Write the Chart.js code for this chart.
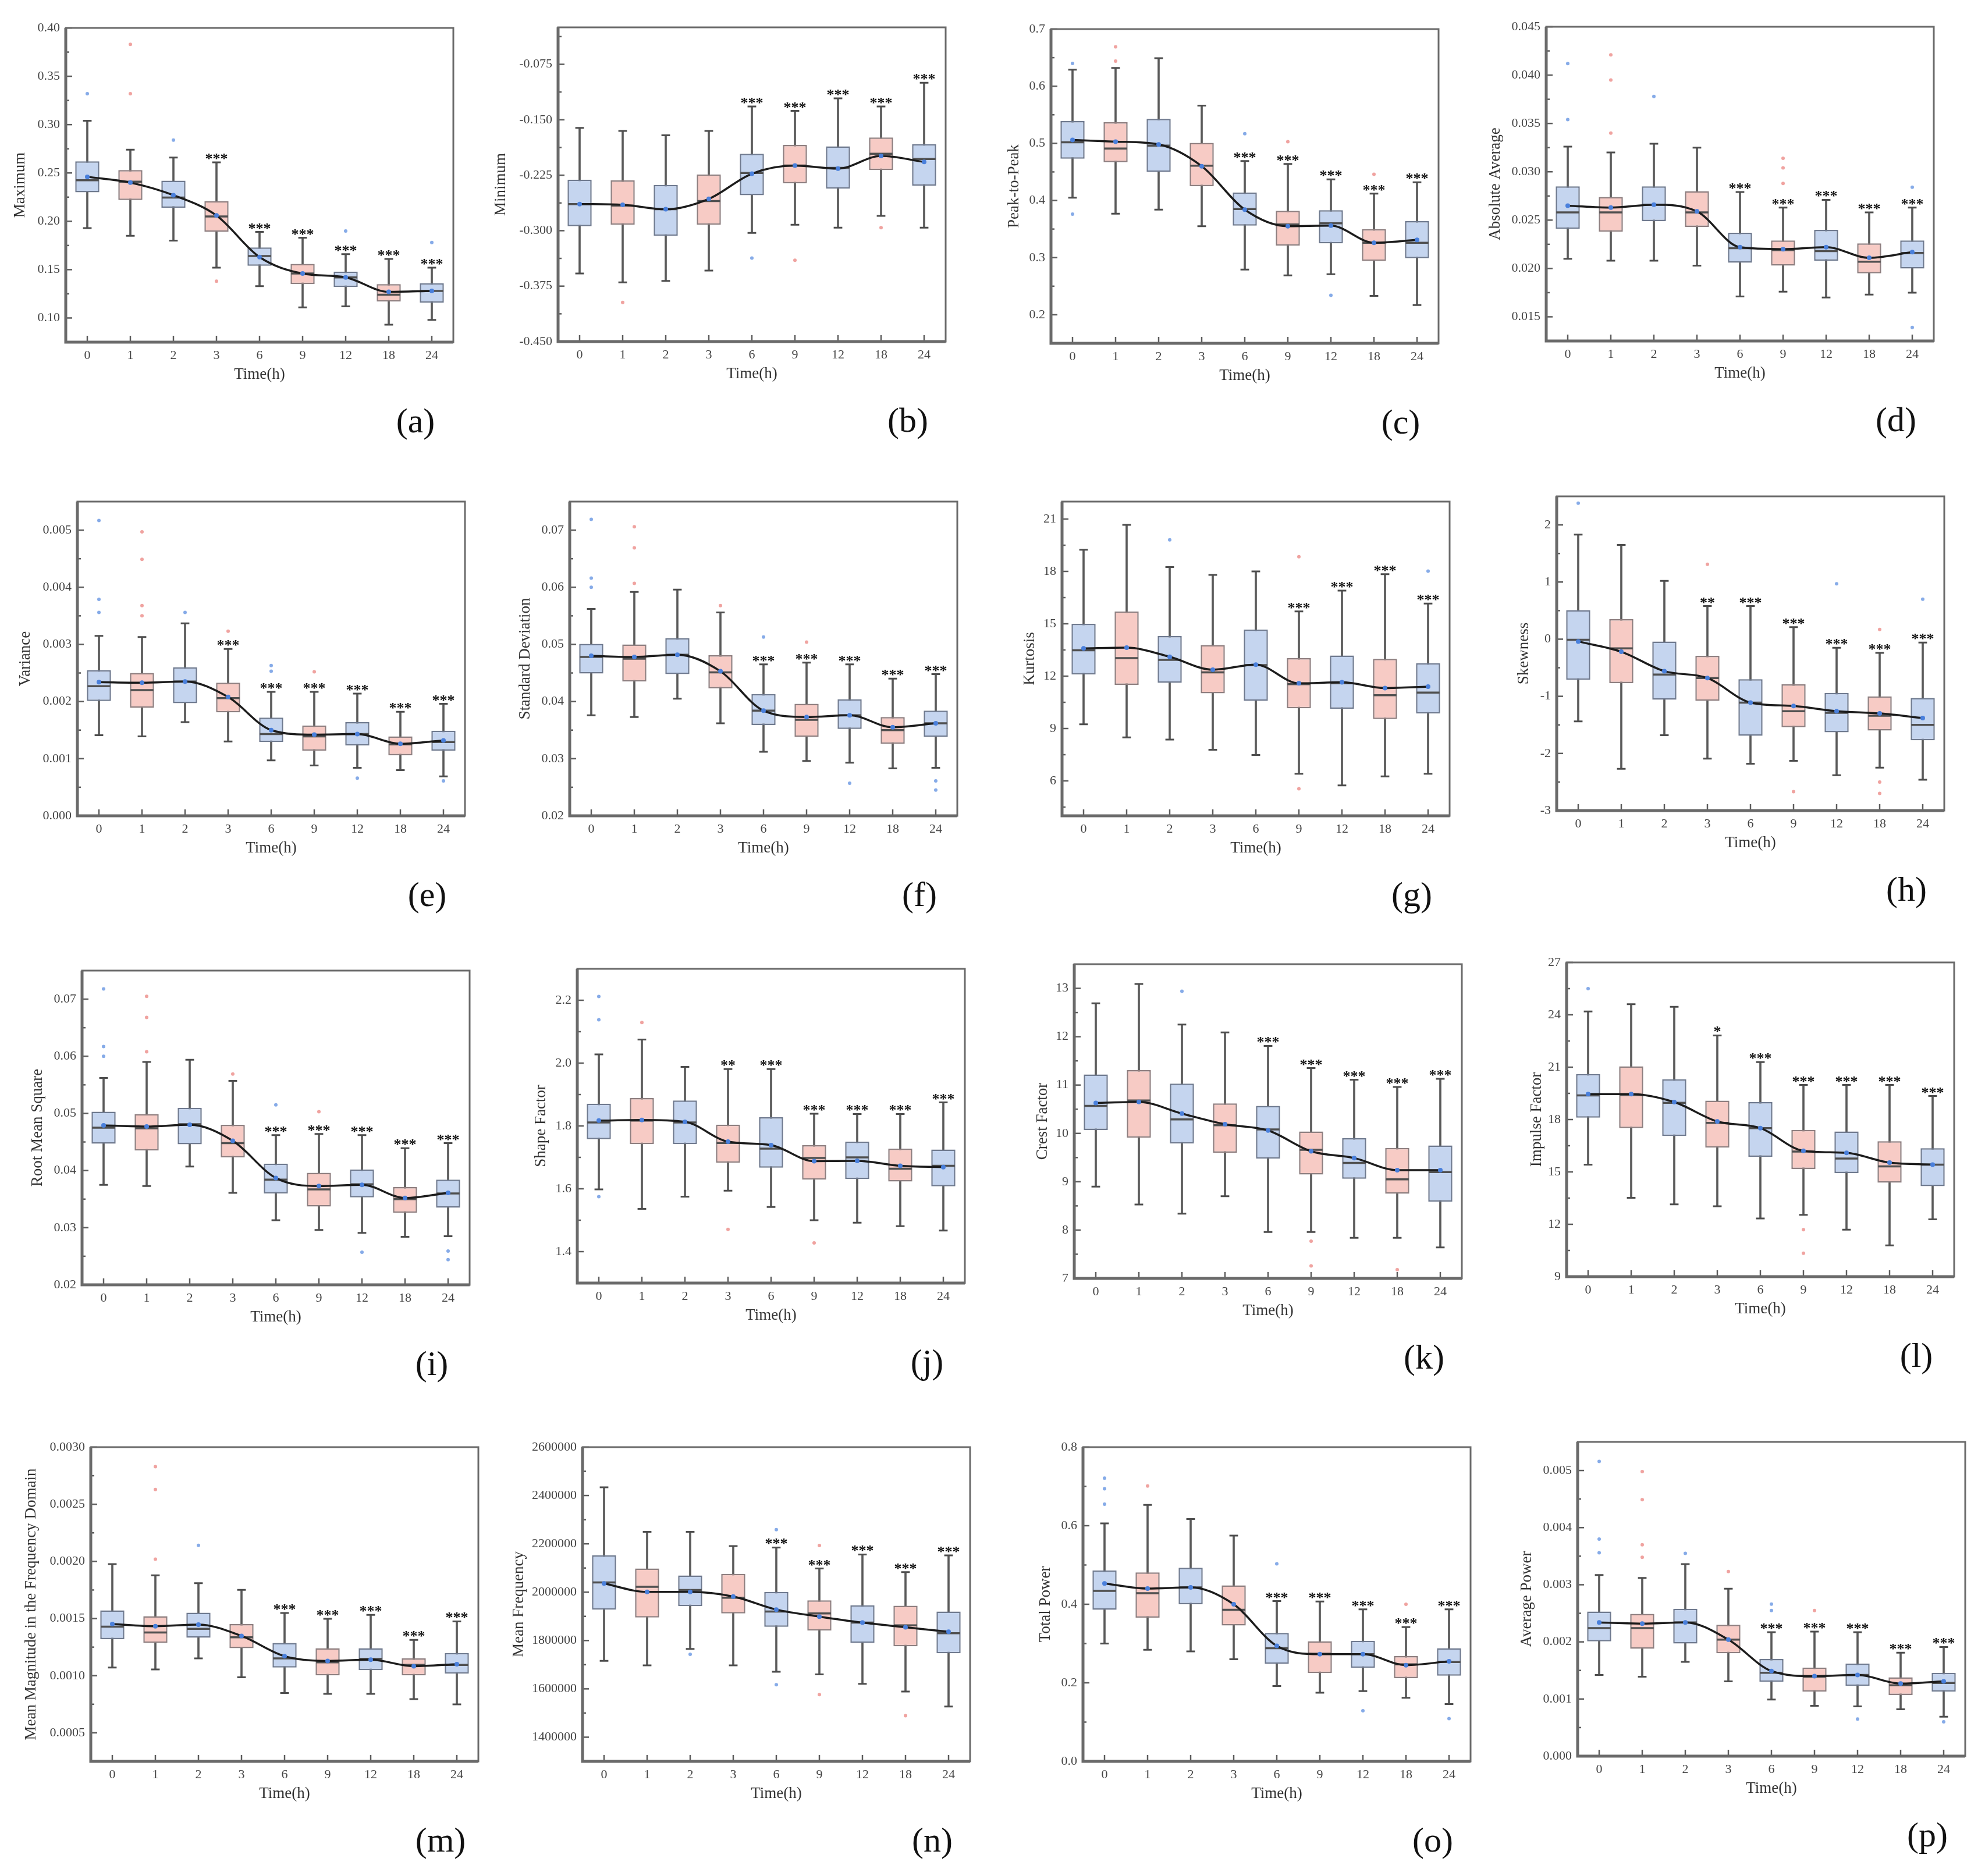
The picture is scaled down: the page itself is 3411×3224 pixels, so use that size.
<!DOCTYPE html>
<html>
<head>
<meta charset="utf-8">
<script src="https://cdn.jsdelivr.net/npm/chart.js@4.4.1/dist/chart.umd.min.js"></script>
<style>
  html, body { margin: 0; padding: 0; background: #fff; }
  #page { position: relative; width: 3411px; height: 3224px; overflow: hidden; background: #fff; }
  #page canvas { position: absolute; }
  .tag { position: absolute; font-family: "Liberation Serif", "Times New Roman", serif; font-size: 60px;
         color: #111; line-height: 1; transform: translate(-50%, -50%); white-space: nowrap; }
</style>
</head>
<body>
<div id="page"></div>
<script>
// time points on the x axis
const hours = ['0', '1', '2', '3', '6', '9', '12', '18', '24'];

// box rows: [lower whisker, Q1, median, Q3, upper whisker], one row per time point
// outliers: [time index, value]

// (a) Maximum
const maximumBoxes = [
  [0.193, 0.230, 0.2425, 0.262, 0.304], [0.185, 0.222, 0.241, 0.253, 0.274], [0.180, 0.214, 0.2245, 0.242, 0.266],
  [0.152, 0.189, 0.205, 0.221, 0.261], [0.133, 0.154, 0.164, 0.173, 0.189], [0.111, 0.135, 0.146, 0.156, 0.183],
  [0.112, 0.132, 0.142, 0.148, 0.166], [0.093, 0.117, 0.124, 0.135, 0.161], [0.098, 0.116, 0.128, 0.136, 0.152]
];
const maximumMeans = [0.246, 0.240, 0.227, 0.206, 0.163, 0.146, 0.142, 0.127, 0.128];
const maximumOutliers = [[0, 0.332], [1, 0.383], [1, 0.332], [2, 0.284], [3, 0.138], [6, 0.190], [8, 0.178]];
const maximumTicks = [0.10, 0.15, 0.20, 0.25, 0.30, 0.35, 0.40];

// (b) Minimum
const minimumBoxes = [
  [-0.358, -0.294, -0.264, -0.231, -0.161], [-0.370, -0.292, -0.266, -0.232, -0.165], [-0.368, -0.307, -0.271, -0.238, -0.171],
  [-0.354, -0.292, -0.260, -0.224, -0.165], [-0.303, -0.252, -0.222, -0.196, -0.132], [-0.292, -0.236, -0.212, -0.184, -0.138],
  [-0.296, -0.243, -0.215, -0.186, -0.121], [-0.280, -0.218, -0.196, -0.174, -0.132], [-0.296, -0.239, -0.203, -0.183, -0.100]
];
const minimumMeans = [-0.264, -0.265, -0.271, -0.257, -0.223, -0.212, -0.216, -0.199, -0.207];
const minimumOutliers = [[1, -0.397], [4, -0.337], [5, -0.340], [7, -0.296]];
const minimumTicks = [-0.450, -0.375, -0.300, -0.225, -0.150, -0.075];

// (c) Peak-to-Peak
const peakBoxes = [
  [0.405, 0.473, 0.502, 0.539, 0.629], [0.377, 0.467, 0.491, 0.537, 0.632], [0.384, 0.450, 0.496, 0.543, 0.649],
  [0.355, 0.425, 0.461, 0.501, 0.566], [0.279, 0.356, 0.385, 0.414, 0.469], [0.269, 0.321, 0.358, 0.382, 0.464],
  [0.271, 0.325, 0.360, 0.383, 0.437], [0.233, 0.294, 0.326, 0.350, 0.412], [0.217, 0.299, 0.326, 0.364, 0.432]
];
const peakMeans = [0.506, 0.503, 0.498, 0.460, 0.384, 0.355, 0.356, 0.326, 0.331];
const peakOutliers = [[0, 0.640], [0, 0.376], [1, 0.669], [1, 0.644], [4, 0.517], [5, 0.503], [6, 0.234], [7, 0.446]];
const peakTicks = [0.2, 0.3, 0.4, 0.5, 0.6, 0.7];

// (d) Absolute Average
const absAvgBoxes = [
  [0.0210, 0.0241, 0.0258, 0.0285, 0.0326], [0.0208, 0.0238, 0.0258, 0.0274, 0.0320], [0.0208, 0.0249, 0.0266, 0.0285, 0.0329],
  [0.0203, 0.0243, 0.0258, 0.0280, 0.0325], [0.0171, 0.0206, 0.0221, 0.0237, 0.0279], [0.0176, 0.0203, 0.0219, 0.0229, 0.0263],
  [0.0170, 0.0208, 0.0218, 0.0240, 0.0271], [0.0173, 0.0195, 0.0207, 0.0226, 0.0258], [0.0175, 0.0200, 0.0216, 0.0229, 0.0263]
];
const absAvgMeans = [0.0265, 0.0263, 0.0266, 0.0259, 0.0222, 0.0220, 0.0222, 0.0211, 0.0217];
const absAvgOutliers = [[0, 0.0412], [0, 0.0354], [1, 0.0421], [1, 0.0395], [1, 0.0340], [2, 0.0378],
  [5, 0.0314], [5, 0.0304], [5, 0.0288], [8, 0.0284], [8, 0.0139]];
const absAvgTicks = [0.015, 0.020, 0.025, 0.030, 0.035, 0.040, 0.045];

// (e) Variance
const varianceBoxes = [
  [0.00141, 0.00201, 0.00227, 0.00255, 0.00315], [0.00139, 0.00189, 0.00220, 0.00250, 0.00313], [0.00164, 0.00197, 0.00235, 0.00260, 0.00337],
  [0.00130, 0.00181, 0.00206, 0.00233, 0.00292], [0.00097, 0.00129, 0.00143, 0.00172, 0.00217], [0.00088, 0.00114, 0.00139, 0.00158, 0.00217],
  [0.00084, 0.00123, 0.00143, 0.00164, 0.00214], [0.00080, 0.00106, 0.00125, 0.00139, 0.00182], [0.00069, 0.00114, 0.00129, 0.00149, 0.00196]
];
const varianceMeans = [0.00234, 0.00233, 0.00235, 0.00208, 0.00150, 0.00142, 0.00143, 0.00126, 0.00132];
const varianceOutliers = [[0, 0.00517], [0, 0.00379], [0, 0.00356], [1, 0.00497], [1, 0.00449], [1, 0.00368], [1, 0.00350],
  [2, 0.00356], [3, 0.00323], [4, 0.00263], [4, 0.00253], [5, 0.00252], [6, 0.00066], [8, 0.00061]];
const varianceTicks = [0.000, 0.001, 0.002, 0.003, 0.004, 0.005];

// (f) Standard Deviation
const stdBoxes = [
  [0.0376, 0.0449, 0.0478, 0.0501, 0.0562], [0.0373, 0.0435, 0.0475, 0.0500, 0.0592], [0.0405, 0.0448, 0.0482, 0.0511, 0.0596],
  [0.0362, 0.0423, 0.0451, 0.0481, 0.0556], [0.0312, 0.0359, 0.0384, 0.0413, 0.0465], [0.0296, 0.0338, 0.0368, 0.0396, 0.0468],
  [0.0293, 0.0352, 0.0376, 0.0404, 0.0465], [0.0283, 0.0326, 0.0350, 0.0373, 0.0440], [0.0284, 0.0338, 0.0362, 0.0384, 0.0448]
];
const stdMeans = [0.0480, 0.0478, 0.0482, 0.0453, 0.0384, 0.0373, 0.0376, 0.0355, 0.0362];
const stdOutliers = [[0, 0.0719], [0, 0.0616], [0, 0.0600], [1, 0.0706], [1, 0.0669], [1, 0.0607],
  [3, 0.0568], [4, 0.0513], [5, 0.0504], [6, 0.0257], [8, 0.0261], [8, 0.0245]];
const stdTicks = [0.02, 0.03, 0.04, 0.05, 0.06, 0.07];

// (g) Kurtosis
const kurtosisBoxes = [
  [9.24, 12.10, 13.48, 15.00, 19.24], [8.49, 11.50, 13.03, 15.71, 20.67], [8.37, 11.62, 12.93, 14.30, 18.25],
  [7.78, 11.02, 12.22, 13.78, 17.80], [7.48, 10.58, 12.63, 14.67, 18.00], [6.41, 10.16, 11.54, 13.03, 15.71],
  [5.74, 10.13, 11.59, 13.18, 16.90], [6.26, 9.54, 10.91, 12.99, 17.84], [6.41, 9.86, 11.06, 12.74, 16.16]
];
const kurtosisMeans = [13.59, 13.63, 13.11, 12.37, 12.66, 11.59, 11.65, 11.32, 11.40];
const kurtosisOutliers = [[2, 19.81], [5, 18.84], [5, 5.55], [8, 18.02]];
const kurtosisTicks = [6, 9, 12, 15, 18, 21];

// (h) Skewness
const skewBoxes = [
  [-1.44, -0.71, -0.01, 0.51, 1.83], [-2.27, -0.77, -0.16, 0.35, 1.65], [-1.68, -1.06, -0.62, -0.04, 1.02],
  [-2.09, -1.08, -0.68, -0.29, 0.58], [-2.18, -1.69, -1.11, -0.70, 0.58], [-2.13, -1.54, -1.26, -0.79, 0.21],
  [-2.38, -1.63, -1.29, -0.94, -0.15], [-2.25, -1.60, -1.34, -1.00, -0.24], [-2.46, -1.77, -1.50, -1.03, -0.06]
];
const skewMeans = [-0.04, -0.22, -0.56, -0.68, -1.11, -1.17, -1.26, -1.30, -1.38];
const skewOutliers = [[0, 2.38], [3, 1.31], [5, -2.67], [6, 0.97], [7, 0.17], [7, -2.50], [7, -2.70], [8, 0.70]];
const skewTicks = [-3, -2, -1, 0, 1, 2];

// (i) Root Mean Square
const rmsBoxes = [
  [0.0375, 0.0447, 0.0475, 0.0503, 0.0562], [0.0373, 0.0435, 0.0474, 0.0499, 0.0590], [0.0407, 0.0446, 0.0481, 0.0510, 0.0594],
  [0.0361, 0.0423, 0.0448, 0.0480, 0.0557], [0.0313, 0.0360, 0.0384, 0.0412, 0.0462], [0.0296, 0.0337, 0.0367, 0.0396, 0.0464],
  [0.0291, 0.0353, 0.0376, 0.0402, 0.0462], [0.0284, 0.0326, 0.0350, 0.0371, 0.0439], [0.0285, 0.0335, 0.0360, 0.0384, 0.0448]
];
const rmsMeans = [0.0479, 0.0477, 0.0480, 0.0452, 0.0387, 0.0373, 0.0375, 0.0352, 0.0361];
const rmsOutliers = [[0, 0.0718], [0, 0.0617], [0, 0.0600], [1, 0.0705], [1, 0.0668], [1, 0.0608],
  [3, 0.0569], [4, 0.0515], [5, 0.0503], [6, 0.0257], [8, 0.0259], [8, 0.0244]];
const rmsTicks = [0.02, 0.03, 0.04, 0.05, 0.06, 0.07];

// (j) Shape Factor
const shapeBoxes = [
  [1.598, 1.758, 1.811, 1.871, 2.028], [1.536, 1.742, 1.817, 1.889, 2.075], [1.575, 1.742, 1.811, 1.881, 1.988],
  [1.594, 1.683, 1.746, 1.804, 1.981], [1.542, 1.667, 1.728, 1.828, 1.981], [1.500, 1.629, 1.698, 1.739, 1.839],
  [1.492, 1.631, 1.700, 1.750, 1.838], [1.481, 1.623, 1.664, 1.728, 1.838], [1.467, 1.608, 1.673, 1.725, 1.875]
];
const shapeMeans = [1.817, 1.819, 1.813, 1.750, 1.739, 1.688, 1.689, 1.673, 1.669];
const shapeOutliers = [[0, 2.212], [0, 2.138], [0, 1.575], [1, 2.129], [3, 1.471], [5, 1.428]];
const shapeTicks = [1.4, 1.6, 1.8, 2.0, 2.2];

// (k) Crest Factor
const crestBoxes = [
  [8.90, 10.07, 10.57, 11.22, 12.69], [8.53, 9.91, 10.68, 11.31, 13.09], [8.34, 9.79, 10.29, 11.03, 12.25],
  [8.70, 9.60, 10.17, 10.62, 12.09], [7.96, 9.48, 10.08, 10.57, 11.81], [7.96, 9.15, 9.66, 10.04, 11.35],
  [7.84, 9.06, 9.39, 9.90, 11.11], [7.84, 8.75, 9.05, 9.70, 10.96], [7.64, 8.59, 9.20, 9.75, 11.13]
];
const crestMeans = [10.63, 10.65, 10.41, 10.19, 10.06, 9.63, 9.49, 9.24, 9.24];
const crestOutliers = [[2, 12.94], [5, 7.77], [5, 7.26], [7, 7.18]];
const crestTicks = [7, 8, 9, 10, 11, 12, 13];

// (l) Impulse Factor
const impulseBoxes = [
  [15.42, 18.11, 19.38, 20.61, 24.19], [13.52, 17.51, 19.41, 21.05, 24.61], [13.14, 17.06, 18.96, 20.31, 24.46],
  [13.03, 16.39, 17.81, 19.08, 22.82], [12.33, 15.87, 17.51, 19.00, 21.29], [12.54, 15.17, 16.17, 17.41, 19.98],
  [11.69, 14.93, 15.77, 17.32, 19.98], [10.79, 14.38, 15.32, 16.76, 19.98], [12.28, 14.18, 15.42, 16.36, 19.35]
];
const impulseMeans = [19.46, 19.46, 19.00, 17.89, 17.51, 16.21, 16.09, 15.53, 15.42];
const impulseOutliers = [[0, 25.5], [5, 11.69], [5, 10.34]];
const impulseTicks = [9, 12, 15, 18, 21, 24, 27];

// (m) Mean Magnitude in the Frequency Domain
const magnitudeBoxes = [
  [0.001071, 0.001320, 0.001429, 0.001571, 0.001977], [0.001055, 0.001286, 0.001378, 0.001521, 0.001878],
  [0.001152, 0.001332, 0.001410, 0.001551, 0.001809], [0.000986, 0.001240, 0.001336, 0.001452, 0.001751],
  [0.000848, 0.001071, 0.001152, 0.001286, 0.001548], [0.000841, 0.001002, 0.001117, 0.001240, 0.001498],
  [0.000841, 0.001048, 0.001147, 0.001240, 0.001532], [0.000795, 0.001002, 0.001094, 0.001152, 0.001313],
  [0.000749, 0.001018, 0.001094, 0.001198, 0.001475]
];
const magnitudeMeans = [0.001452, 0.001433, 0.001447, 0.001348, 0.001170, 0.001129, 0.001140, 0.001083, 0.001101];
const magnitudeOutliers = [[1, 0.00283], [1, 0.00263], [1, 0.00202], [2, 0.00214]];
const magnitudeTicks = [0.0005, 0.0010, 0.0015, 0.0020, 0.0025, 0.0030];

// (n) Mean Frequency
const meanFreqBoxes = [
  [1716000, 1928000, 2040000, 2152000, 2434000], [1697000, 1895000, 2022000, 2098000, 2250000],
  [1765000, 1942000, 2009000, 2069000, 2250000], [1697000, 1912000, 1977000, 2076000, 2191000],
  [1671000, 1857000, 1920000, 2001000, 2185000], [1660000, 1841000, 1912000, 1966000, 2098000],
  [1621000, 1790000, 1874000, 1946000, 2156000], [1589000, 1776000, 1863000, 1944000, 2083000],
  [1527000, 1747000, 1830000, 1920000, 2152000]
];
const meanFreqMeans = [2036000, 2001000, 2001000, 1982000, 1928000, 1899000, 1874000, 1855000, 1836000];
const meanFreqOutliers = [[2, 1743000], [4, 2259000], [4, 1617000], [5, 2193000], [5, 1576000], [7, 1489000]];
const meanFreqTicks = [1400000, 1600000, 1800000, 2000000, 2200000, 2400000, 2600000];

// (o) Total Power
const totalPowerBoxes = [
  [0.300, 0.386, 0.434, 0.486, 0.606], [0.284, 0.366, 0.428, 0.481, 0.653], [0.280, 0.400, 0.443, 0.493, 0.617],
  [0.260, 0.346, 0.386, 0.448, 0.575], [0.192, 0.248, 0.288, 0.327, 0.408], [0.175, 0.225, 0.274, 0.306, 0.407],
  [0.179, 0.238, 0.273, 0.307, 0.387], [0.162, 0.212, 0.247, 0.268, 0.342], [0.146, 0.218, 0.253, 0.288, 0.387]
];
const totalPowerMeans = [0.453, 0.440, 0.443, 0.400, 0.294, 0.273, 0.273, 0.245, 0.255];
const totalPowerOutliers = [[0, 0.721], [0, 0.694], [0, 0.655], [1, 0.701], [4, 0.503], [6, 0.129], [7, 0.400], [8, 0.109]];
const totalPowerTicks = [0.0, 0.2, 0.4, 0.6, 0.8];

// (p) Average Power
const avgPowerBoxes = [
  [0.00142, 0.00201, 0.00224, 0.00253, 0.00317], [0.00139, 0.00188, 0.00224, 0.00249, 0.00312], [0.00165, 0.00197, 0.00234, 0.00258, 0.00336],
  [0.00131, 0.00180, 0.00204, 0.00230, 0.00293], [0.00099, 0.00130, 0.00146, 0.00170, 0.00217], [0.00088, 0.00113, 0.00139, 0.00155, 0.00218],
  [0.00087, 0.00123, 0.00142, 0.00162, 0.00217], [0.00082, 0.00107, 0.00124, 0.00138, 0.00181], [0.00069, 0.00113, 0.00128, 0.00146, 0.00191]
];
const avgPowerMeans = [0.00234, 0.00232, 0.00234, 0.00204, 0.00149, 0.00140, 0.00142, 0.00127, 0.00131];
const avgPowerOutliers = [[0, 0.00516], [0, 0.00380], [0, 0.00356], [1, 0.00498], [1, 0.00449], [1, 0.00370], [1, 0.00348],
  [2, 0.00355], [3, 0.00323], [4, 0.00266], [4, 0.00255], [5, 0.00255], [6, 0.00065], [8, 0.00060]];
const avgPowerTicks = [0.000, 0.001, 0.002, 0.003, 0.004, 0.005];

// significance marks over each time point
const starsFrom3 = ['', '', '', '***', '***', '***', '***', '***', '***'];
const starsFrom6 = ['', '', '', '', '***', '***', '***', '***', '***'];
const starsFrom9 = ['', '', '', '', '', '***', '***', '***', '***'];
const starsTwoAt3 = ['', '', '', '**', '***', '***', '***', '***', '***'];
const starsOneAt3 = ['', '', '', '*', '***', '***', '***', '***', '***'];

const panels = [
  { tag: 'a', title: 'Maximum', boxes: maximumBoxes, means: maximumMeans, outliers: maximumOutliers, stars: starsFrom3, ticks: maximumTicks, min: 0.075, max: 0.40, dec: 2 },
  { tag: 'b', title: 'Minimum', boxes: minimumBoxes, means: minimumMeans, outliers: minimumOutliers, stars: starsFrom6, ticks: minimumTicks, min: -0.45, max: -0.025, dec: 3 },
  { tag: 'c', title: 'Peak-to-Peak', boxes: peakBoxes, means: peakMeans, outliers: peakOutliers, stars: starsFrom6, ticks: peakTicks, min: 0.15, max: 0.70, dec: 1 },
  { tag: 'd', title: 'Absolute Average', boxes: absAvgBoxes, means: absAvgMeans, outliers: absAvgOutliers, stars: starsFrom6, ticks: absAvgTicks, min: 0.0125, max: 0.045, dec: 3 },
  { tag: 'e', title: 'Variance', boxes: varianceBoxes, means: varianceMeans, outliers: varianceOutliers, stars: starsFrom3, ticks: varianceTicks, min: 0, max: 0.0055, dec: 3 },
  { tag: 'f', title: 'Standard Deviation', boxes: stdBoxes, means: stdMeans, outliers: stdOutliers, stars: starsFrom6, ticks: stdTicks, min: 0.02, max: 0.075, dec: 2 },
  { tag: 'g', title: 'Kurtosis', boxes: kurtosisBoxes, means: kurtosisMeans, outliers: kurtosisOutliers, stars: starsFrom9, ticks: kurtosisTicks, min: 4, max: 22, dec: 0 },
  { tag: 'h', title: 'Skewness', boxes: skewBoxes, means: skewMeans, outliers: skewOutliers, stars: starsTwoAt3, ticks: skewTicks, min: -3, max: 2.5, dec: 0 },
  { tag: 'i', title: 'Root Mean Square', boxes: rmsBoxes, means: rmsMeans, outliers: rmsOutliers, stars: starsFrom6, ticks: rmsTicks, min: 0.02, max: 0.075, dec: 2 },
  { tag: 'j', title: 'Shape Factor', boxes: shapeBoxes, means: shapeMeans, outliers: shapeOutliers, stars: starsTwoAt3, ticks: shapeTicks, min: 1.3, max: 2.3, dec: 1 },
  { tag: 'k', title: 'Crest Factor', boxes: crestBoxes, means: crestMeans, outliers: crestOutliers, stars: starsFrom6, ticks: crestTicks, min: 7, max: 13.5, dec: 0 },
  { tag: 'l', title: 'Impulse Factor', boxes: impulseBoxes, means: impulseMeans, outliers: impulseOutliers, stars: starsOneAt3, ticks: impulseTicks, min: 9, max: 27, dec: 0 },
  { tag: 'm', title: 'Mean Magnitude in the Frequency Domain', boxes: magnitudeBoxes, means: magnitudeMeans, outliers: magnitudeOutliers, stars: starsFrom6, ticks: magnitudeTicks, min: 0.00025, max: 0.0030, dec: 4 },
  { tag: 'n', title: 'Mean Frequency', boxes: meanFreqBoxes, means: meanFreqMeans, outliers: meanFreqOutliers, stars: starsFrom6, ticks: meanFreqTicks, min: 1300000, max: 2600000, dec: 0 },
  { tag: 'o', title: 'Total Power', boxes: totalPowerBoxes, means: totalPowerMeans, outliers: totalPowerOutliers, stars: starsFrom6, ticks: totalPowerTicks, min: 0, max: 0.8, dec: 1 },
  { tag: 'p', title: 'Average Power', boxes: avgPowerBoxes, means: avgPowerMeans, outliers: avgPowerOutliers, stars: starsFrom6, ticks: avgPowerTicks, min: 0, max: 0.0055, dec: 3 }
];

// where each plot area sits on the page: [left, top, gap from y title to plot]
const plotPlaces = [
  [113, 48, 78], [959, 47, 98], [1806, 50, 63], [2657, 46, 87],
  [133, 862, 89], [979, 862, 76], [1825, 862, 55], [2675, 853, 56],
  [141, 1668, 76], [992, 1665, 62], [1846, 1657, 54], [2692, 1654, 51],
  [156, 2487, 102], [1001, 2487, 109], [1861, 2487, 64], [2711, 2478, 87]
];
const PLOT_W = 666, PLOT_H = 540, AXIS_W = 150, AXIS_H = 90, PAD_TOP = 30, PAD_RIGHT = 20;

Chart.defaults.font.family = '"Liberation Serif", "Times New Roman", serif';

const BLUE_FILL = '#c5d5ef', PINK_FILL = '#f7cbc5';
const BLUE_EDGE = '#6f7a8f', PINK_EDGE = '#8e7f80';
const BLUE_DOT = '#86abe8', PINK_DOT = '#f0a3a0';

function catWidth(chart) {
  return chart.scales.x.width / hours.length;
}

function decorations(p) {
  return {
    id: 'decor' + p.tag,
    afterDatasetsDraw(chart) {
      const { ctx, scales: { x, y } } = chart;
      ctx.save();
      ctx.fillStyle = '#111';
      ctx.font = 'bold 26px "Liberation Serif"';
      ctx.textAlign = 'center';
      ctx.textBaseline = 'alphabetic';
      p.stars.forEach((s, i) => {
        if (!s) return;
        ctx.fillText(s, x.getPixelForValue(i), y.getPixelForValue(p.boxes[i][4]) + 2);
      });
      ctx.restore();
    },
    afterDraw(chart) {
      const { ctx, chartArea: a, scales: { x, y } } = chart;
      ctx.save();
      ctx.strokeStyle = '#5c5c5c';
      ctx.lineWidth = 2.5;
      // inward ticks on the y axis, majors and the minors between them
      const step = p.ticks[1] - p.ticks[0];
      p.ticks.forEach(v => {
        const py = y.getPixelForValue(v);
        ctx.beginPath(); ctx.moveTo(a.left, py); ctx.lineTo(a.left + 11, py); ctx.stroke();
      });
      const minors = [p.ticks[0] - step / 2].concat(p.ticks.map(v => v + step / 2));
      minors.forEach(v => {
        if (v <= p.min + step * 0.01 || v >= p.max - step * 0.01) return;
        const py = y.getPixelForValue(v);
        ctx.beginPath(); ctx.moveTo(a.left, py); ctx.lineTo(a.left + 6, py); ctx.stroke();
      });
      // inward ticks on the x axis
      hours.forEach((h, i) => {
        const px = x.getPixelForValue(i);
        ctx.beginPath(); ctx.moveTo(px, a.bottom); ctx.lineTo(px, a.bottom - 11); ctx.stroke();
      });
      // frame
      ctx.strokeStyle = '#6a6a6a';
      ctx.lineWidth = 3;
      ctx.strokeRect(a.left, a.top, a.width, a.height);
      ctx.lineWidth = 5;
      ctx.beginPath();
      ctx.moveTo(a.left, a.top); ctx.lineTo(a.left, a.bottom); ctx.lineTo(a.right, a.bottom);
      ctx.stroke();
      ctx.restore();
    }
  };
}

const page = document.getElementById('page');

panels.forEach((p, k) => {
  const [left, top, gap] = plotPlaces[k];
  const canvas = document.createElement('canvas');
  const cw = AXIS_W + PLOT_W + PAD_RIGHT, ch = PAD_TOP + PLOT_H + AXIS_H;
  canvas.width = cw; canvas.height = ch;
  canvas.style.width = cw + 'px'; canvas.style.height = ch + 'px';
  canvas.style.left = (left - AXIS_W) + 'px';
  canvas.style.top = (top - PAD_TOP) + 'px';
  page.appendChild(canvas);

  const tag = document.createElement('div');
  tag.className = 'tag';
  tag.textContent = '(' + p.tag + ')';
  tag.style.left = (left + PLOT_W - 65) + 'px';
  tag.style.top = (top + PLOT_H + 135) + 'px';
  page.appendChild(tag);

  const lineStyle = { type: 'line', showLine: false, pointHitRadius: 0 };

  new Chart(canvas.getContext('2d'), {
    type: 'bar',
    data: {
      labels: hours,
      datasets: [
        {
          // whisker stems
          data: p.boxes.map(b => [b[0], b[4]]),
          backgroundColor: '#5a5a5a',
          barThickness: 3,
          grouped: false,
          order: 6
        },
        {
          // interquartile boxes
          data: p.boxes.map(b => [b[1], b[3]]),
          backgroundColor: hours.map((_, i) => i % 2 ? PINK_FILL : BLUE_FILL),
          borderColor: hours.map((_, i) => i % 2 ? PINK_EDGE : BLUE_EDGE),
          borderWidth: 2.5,
          borderSkipped: false,
          barPercentage: 0.56,
          categoryPercentage: 1,
          grouped: false,
          order: 5
        },
        Object.assign({}, lineStyle, {
          // whisker caps
          data: p.boxes.map(b => b[4]),
          pointStyle: 'line',
          pointRadius: ctx => catWidth(ctx.chart) * 0.1,
          pointBorderColor: '#4d4d4d',
          pointBorderWidth: 3,
          order: 4
        }),
        Object.assign({}, lineStyle, {
          data: p.boxes.map(b => b[0]),
          pointStyle: 'line',
          pointRadius: ctx => catWidth(ctx.chart) * 0.1,
          pointBorderColor: '#4d4d4d',
          pointBorderWidth: 3,
          order: 4
        }),
        Object.assign({}, lineStyle, {
          // medians
          data: p.boxes.map(b => b[2]),
          pointStyle: 'line',
          pointRadius: ctx => catWidth(ctx.chart) * 0.28 - 1,
          pointBorderColor: '#505050',
          pointBorderWidth: 3.5,
          order: 4
        }),
        Object.assign({}, lineStyle, {
          // outliers
          data: p.outliers.map(o => ({ x: hours[o[0]], y: o[1] })),
          pointRadius: 3,
          pointBorderWidth: 0,
          pointBackgroundColor: ctx => (p.outliers[ctx.dataIndex] || [0])[0] % 2 ? PINK_DOT : BLUE_DOT,
          order: 3
        }),
        {
          // mean trend
          type: 'line',
          data: p.means,
          borderColor: '#1c1c1c',
          borderWidth: 3.5,
          cubicInterpolationMode: 'monotone',
          pointRadius: 4,
          pointBorderWidth: 0,
          pointBackgroundColor: '#4a80dc',
          order: 1
        }
      ]
    },
    options: {
      responsive: false,
      animation: false,
      events: [],
      layout: { padding: { top: PAD_TOP, right: PAD_RIGHT, left: 0, bottom: 0 } },
      plugins: { legend: { display: false }, tooltip: { enabled: false } },
      scales: {
        x: {
          type: 'category',
          offset: true,
          grid: { display: false, drawTicks: false },
          border: { display: false },
          ticks: { padding: 10, color: '#444', font: { size: 22 }, maxRotation: 0, autoSkip: false },
          title: { display: true, text: 'Time(h)', color: '#333', font: { size: 27 }, padding: { top: 0, bottom: 18 } },
          afterFit: s => { s.height = AXIS_H; }
        },
        y: {
          type: 'linear',
          min: p.min,
          max: p.max,
          grid: { display: false, drawTicks: false },
          border: { display: false },
          ticks: { padding: 10, color: '#444', font: { size: 22 }, callback: v => Number(v).toFixed(p.dec) },
          afterBuildTicks: s => { s.ticks = p.ticks.map(v => ({ value: v })); },
          title: { display: true, text: p.title, color: '#333', font: { size: 27 }, padding: { top: AXIS_W - gap - 16, bottom: 0 } },
          afterFit: s => { s.width = AXIS_W; }
        }
      }
    },
    plugins: [decorations(p)]
  });
});
</script>
</body>
</html>
